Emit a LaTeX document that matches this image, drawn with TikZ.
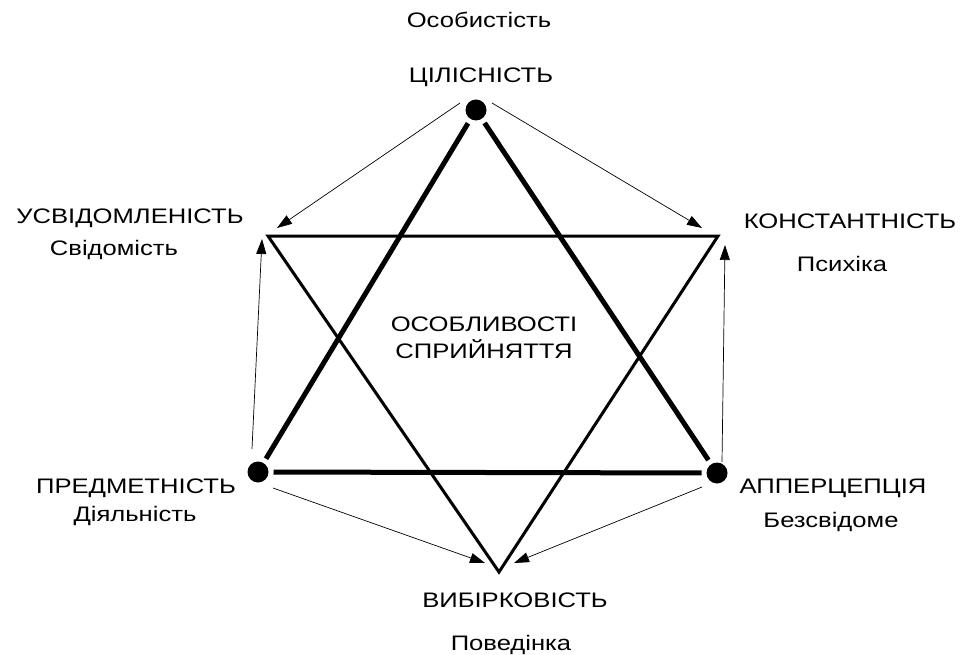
\documentclass[tikz,border=0pt]{standalone}
\usepackage{fontspec}
\setmainfont{Liberation Sans}[FakeStretch=1.22]
\usetikzlibrary{arrows.meta}
\begin{document}
\begin{tikzpicture}[x=1pt,y=-1pt,
  lbl/.style={font=\fontsize{21}{27}\selectfont, inner sep=0pt, anchor=base, align=center},
  dot/.style={circle, fill=black, minimum size=21pt, inner sep=0pt, outer sep=5pt},
  heavy/.style={line width=5pt},
  medium/.style={line width=3pt, line join=miter},
  thinarrow/.style={line width=0.7pt, -{Triangle[length=15pt,width=10pt]}}]
\useasboundingbox (0,0) rectangle (963,655);
% vertices
\node[dot] (top) at (476,110) {};
\node[dot] (ll) at (258,472) {};
\node[dot] (lr) at (717,473) {};
\coordinate (ul) at (268,236);
\coordinate (ur) at (718,236);
\coordinate (bot) at (499,572);
% thick triangle
\draw[heavy] (top) -- (ll);
\draw[heavy] (top) -- (lr);
\draw[heavy] (ll) -- (lr);
% medium triangle
\draw[medium] (ul) -- (ur) -- (bot) -- cycle;
% thin arrows
\coordinate (s1) at (460,103); \coordinate (t1) at (277,228);
\coordinate (s2) at (492,103); \coordinate (t2) at (702,228);
\coordinate (s3) at (252,449); \coordinate (t3) at (262,239);
\coordinate (s4) at (722,462); \coordinate (t4) at (725,245);
\coordinate (s5) at (273,488); \coordinate (t5) at (485,563);
\coordinate (s6) at (702,487); \coordinate (t6) at (514,563);
\draw[thinarrow] (s1) -- (t1);
\draw[thinarrow] (s2) -- (t2);
\draw[thinarrow] (s3) -- (t3);
\draw[thinarrow] (s4) -- (t4);
\draw[thinarrow] (s5) -- (t5);
\draw[thinarrow] (s6) -- (t6);
% labels
\node[lbl] (osob) at (479,28) {Особистість};
\node[lbl] (cil) at (481,83) {ЦІЛІСНІСТЬ};
\node[lbl] (usv) at (130,223) {УСВІДОМЛЕНІСТЬ};
\node[lbl] (svid) at (114,255) {Свідомість};
\node[lbl] (kon) at (850,228) {КОНСТАНТНІСТЬ};
\node[lbl] (psy) at (842,271) {Психіка};
\node[lbl] (cen) at (484,358) {ОСОБЛИВОСТІ\\СПРИЙНЯТТЯ};
\node[lbl] (pred) at (136,493) {ПРЕДМЕТНІСТЬ};
\node[lbl] (diya) at (135,521) {Діяльність};
\node[lbl] (app) at (833,493) {АППЕРЦЕПЦІЯ};
\node[lbl] (bez) at (831,527) {Безсвідоме};
\node[lbl] (vyb) at (515,607) {ВИБІРКОВІСТЬ};
\node[lbl] (pov) at (511,650) {Поведінка};
\end{tikzpicture}
\end{document}
